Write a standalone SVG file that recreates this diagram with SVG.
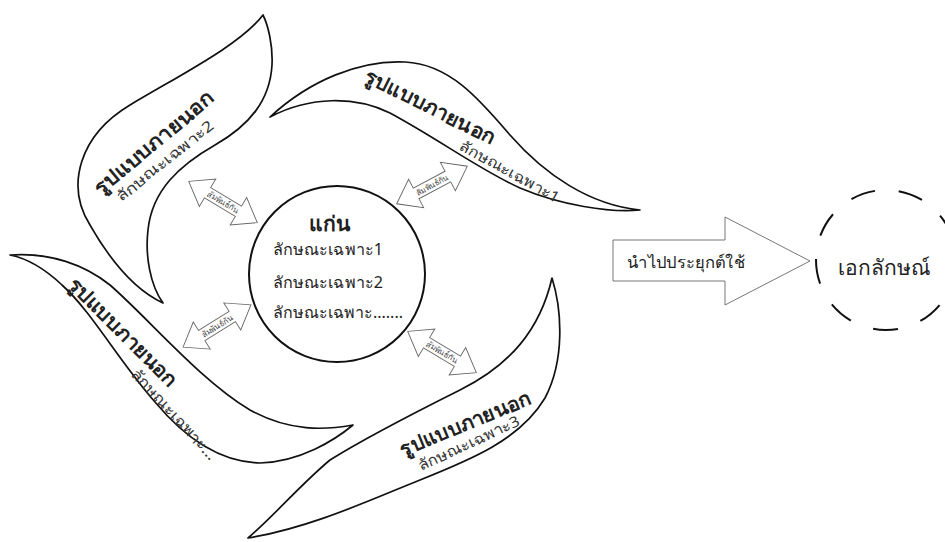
<svg xmlns="http://www.w3.org/2000/svg" width="945" height="542" viewBox="0 0 945 542">
<style>
.leaf{fill:#fff;stroke:#111;stroke-width:1.7;stroke-linejoin:round}
.t{font-family:"Noto Sans","DejaVu Sans",sans-serif;fill:#222}
.ttl{font-size:20px;font-weight:bold;text-anchor:middle}
.sub{font-size:15px;text-anchor:middle;fill:#333}
.sa{fill:#fff;stroke:#666;stroke-width:0.9}
.sat{font-family:"Noto Sans","DejaVu Sans",sans-serif;font-size:8px;fill:#444;text-anchor:middle}
</style>
<defs>
<path id="dbl" d="M-40,0 L-18,-16 L-18,-6 L18,-6 L18,-16 L40,0 L18,16 L18,6 L-18,6 L-18,16 Z"/>
</defs>
<rect width="945" height="542" fill="#fff"/>
<g id="leaf1">
<path class="leaf" d="M270,117 C310,80 360,60 405,62 C450,64 480,100 510,135 C545,175 590,205 640,210 C610,213 560,205 520,188 C480,170 440,140 390,113 C355,96 310,96 270,117 Z"/>
<text class="t ttl" transform="translate(427,113) rotate(26.5)" textLength="143" lengthAdjust="spacingAndGlyphs">รูปแบบภายนอก</text>
<text class="t sub" transform="translate(507,176) rotate(29)" textLength="112" lengthAdjust="spacingAndGlyphs">ลักษณะเฉพาะ1</text>
</g>
<g id="leaf2">
<path class="leaf" d="M263,15 C240,45 180,75 130,105 C80,135 65,185 90,225 C110,260 135,290 163,303 C150,285 145,255 148,230 C152,190 180,165 215,145 C250,125 270,100 272,65 C273,45 268,25 263,15 Z"/>
<text class="t ttl" transform="translate(158,148) rotate(-40)" textLength="150" lengthAdjust="spacingAndGlyphs">รูปแบบภายนอก</text>
<text class="t sub" transform="translate(168,165) rotate(-38.5)" textLength="120" lengthAdjust="spacingAndGlyphs">ลักษณะเฉพาะ2</text>
</g>
<g id="leaf3">
<path class="leaf" d="M10,255 C50,252 85,265 110,285 C150,320 200,380 250,410 C290,432 325,430 353,425 C335,440 300,462 260,463 C215,462 180,432 155,402 C118,360 92,312 62,285 C43,267 25,258 10,255 Z"/>
<text class="t ttl" transform="translate(118,337) rotate(45)" textLength="145" lengthAdjust="spacingAndGlyphs">รูปแบบภายนอก</text>
<text class="t sub" transform="translate(170,418) rotate(47)" textLength="118" lengthAdjust="spacingAndGlyphs">ลักษณะเฉพาะ...</text>
</g>
<g id="leaf4">
<path class="leaf" d="M552,278 C562,310 565,360 545,398 C520,440 470,460 420,480 C370,500 310,528 248,538 C275,515 300,485 330,460 C370,435 420,410 460,390 C510,365 540,330 552,278 Z"/>
<text class="t ttl" transform="translate(468,430) rotate(-22.5)" textLength="140" lengthAdjust="spacingAndGlyphs">รูปแบบภายนอก</text>
<text class="t sub" transform="translate(471,448) rotate(-25)" textLength="110" lengthAdjust="spacingAndGlyphs">ลักษณะเฉพาะ3</text>
</g>
<g id="core">
<circle cx="337" cy="274" r="88" fill="#fff" stroke="#111" stroke-width="2"/>
<text class="t" x="329" y="231" font-size="21" font-weight="bold" text-anchor="middle">แก่น</text>
<text class="t" x="273" y="255" font-size="16" fill="#333" textLength="110" lengthAdjust="spacingAndGlyphs">ลักษณะเฉพาะ1</text>
<text class="t" x="273" y="288" font-size="16" fill="#333" textLength="110" lengthAdjust="spacingAndGlyphs">ลักษณะเฉพาะ2</text>
<text class="t" x="273" y="318" font-size="16" fill="#333" textLength="130" lengthAdjust="spacingAndGlyphs">ลักษณะเฉพาะ.......</text>
</g>
<g id="connectors">
<g transform="translate(223,202) rotate(31)"><use href="#dbl" class="sa"/><text class="sat" y="3">สัมพันธ์กัน</text></g>
<g transform="translate(432,185) rotate(-28)"><use href="#dbl" class="sa"/><text class="sat" y="3">สัมพันธ์กัน</text></g>
<g transform="translate(217,326) rotate(-32)"><use href="#dbl" class="sa"/><text class="sat" y="3">สัมพันธ์กัน</text></g>
<g transform="translate(442,352) rotate(31)"><use href="#dbl" class="sa"/><text class="sat" y="3">สัมพันธ์กัน</text></g>
<g id="apply">
<polygon points="613,240 725,240 725,217 810,261 725,305 725,281 613,281" fill="#fff" stroke="#777" stroke-width="1"/>
<text class="t" x="627" y="268" font-size="16" textLength="118" lengthAdjust="spacingAndGlyphs">นำไปประยุกต์ใช้</text>
</g>
</g>
<g id="identity">
<circle cx="886" cy="260" r="70" fill="none" stroke="#111" stroke-width="2" stroke-dasharray="25 23.87"/>
<text class="t" x="884" y="275" font-size="21" text-anchor="middle">เอกลักษณ์</text>
</g>
</svg>
